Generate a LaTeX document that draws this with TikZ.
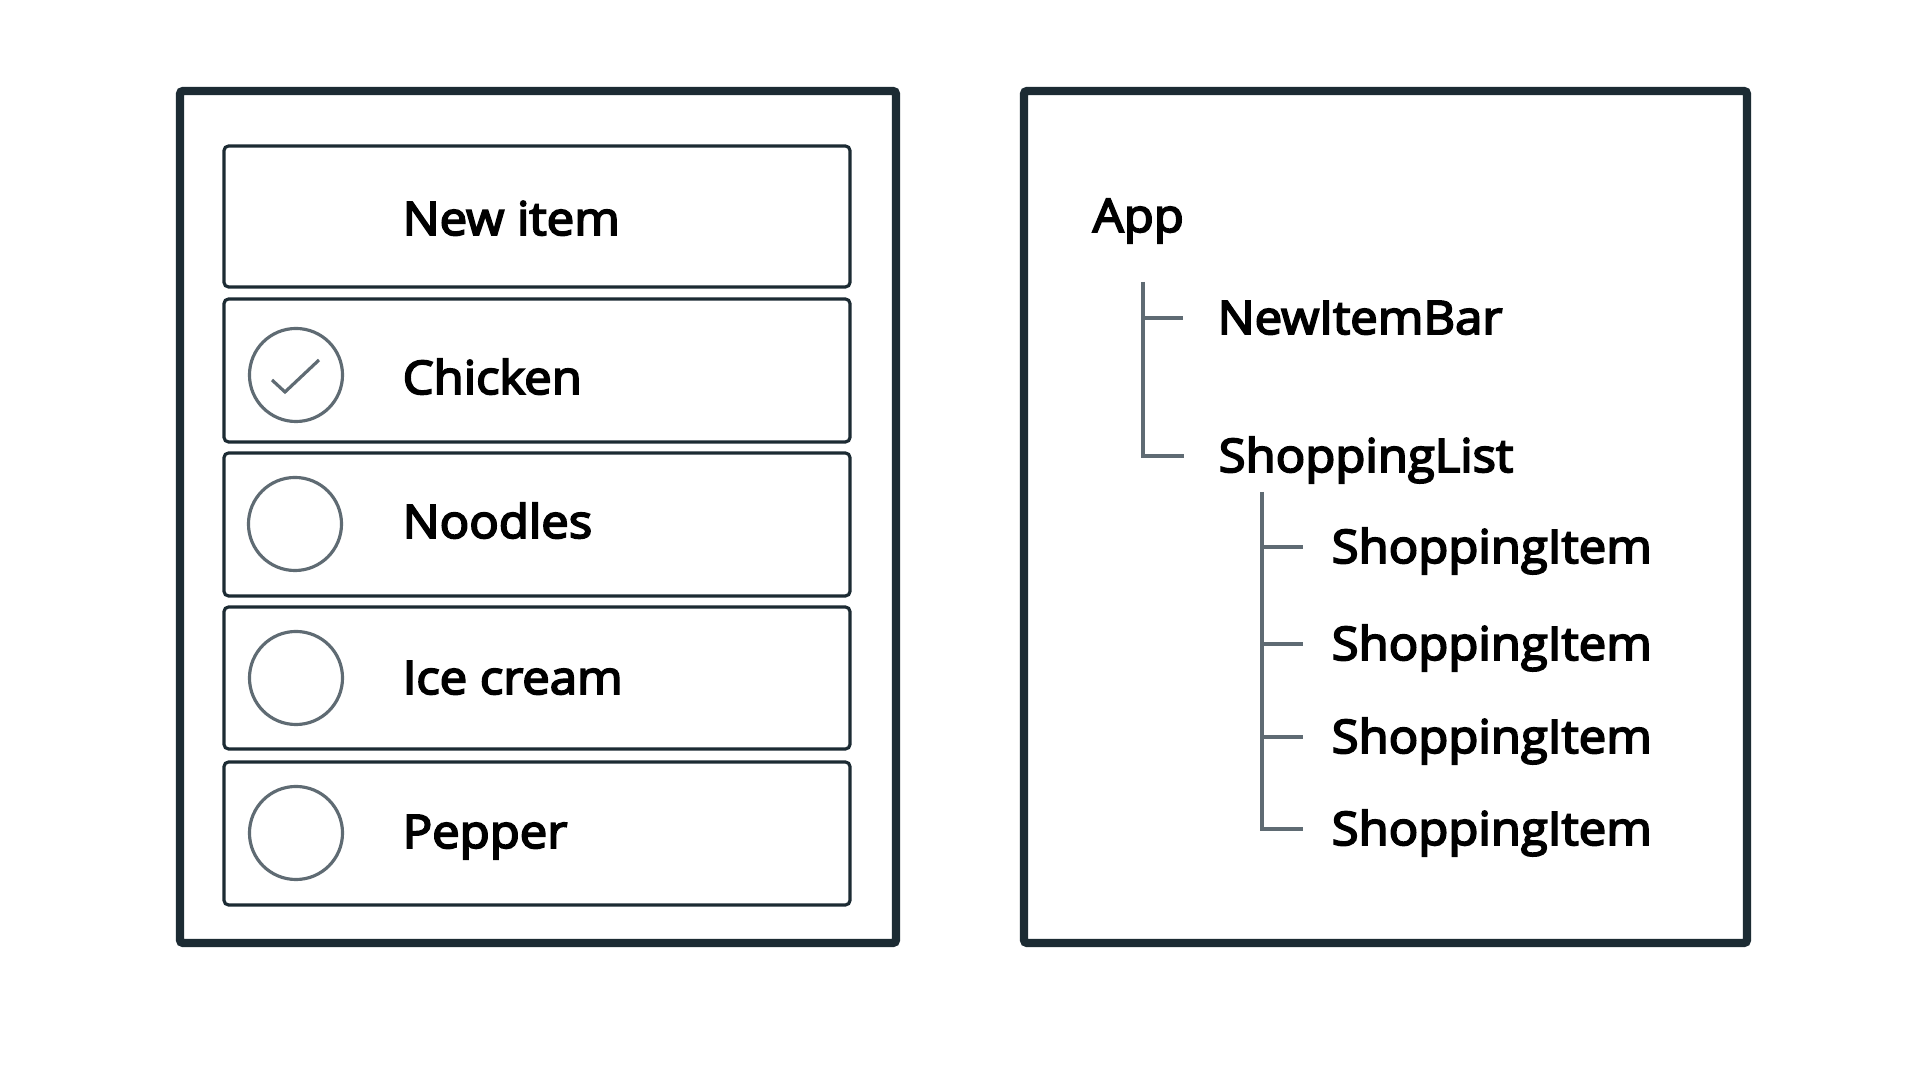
\documentclass[tikz,border=0pt]{standalone}
\usepackage{fontspec}
\setmainfont{Open Sans}[FakeBold=4, FakeStretch=1.06]
\usepackage{tikz}
\usetikzlibrary{positioning, calc}

\definecolor{framedark}{HTML}{1C2B33}
\definecolor{branchgray}{HTML}{5F6B73}

\tikzset{
  panel/.style={draw=framedark, line width=2.3pt, rounded corners=0.8pt},
  rowbox/.style={draw=framedark, line width=0.9pt, rounded corners=1.3pt},
  checkbox/.style={draw=branchgray, line width=0.9pt},
  label/.style={anchor=west, inner sep=0pt, text height=0.32cm, text depth=0cm,
    font=\fontsize{13.15}{16}\selectfont, text=black},
  branch/.style={draw=branchgray, line width=1pt}
}

\begin{document}
\begin{tikzpicture}[x=0.01cm, y=-0.01cm]
\useasboundingbox[fill=white] (0,0) rectangle (1920,1080);

% the list as the user sees it
\draw[panel] (180,91) rectangle (896,943);

\draw[rowbox] (224,146) rectangle (850,287);
\node[label] (newitem) at (402,219) {New item};

\draw[rowbox] (224,299) rectangle (850,442);
\draw[checkbox] (296,375) circle[radius=0.465cm];
\draw[checkbox] (272,380) -- (285,392) -- (319,360);
\node[label] (chicken) at (402,378) {Chicken};

\draw[rowbox] (224,453) rectangle (850,596);
\draw[checkbox] (295,524) circle[radius=0.465cm];
\node[label] (noodles) at (402,522) {Noodles};

\draw[rowbox] (224,607) rectangle (850,749);
\draw[checkbox] (296,678) circle[radius=0.465cm];
\node[label] (icecream) at (402,678) {Ice cream};

\draw[rowbox] (224,762) rectangle (850,905);
\draw[checkbox] (296,833) circle[radius=0.465cm];
\node[label] (pepper) at (402,832) {Pepper};

% the component tree
\draw[panel] (1024,91) rectangle (1747,943);

\node[label] (app) at (1092,216) {App};
\node[label] (bar) at (1217,318) {NewItemBar};
\node[label] (list) at (1218,456) {ShoppingList};
\node[label] (item1) at (1331,547) {ShoppingItem};
\node[label] (item2) at (1331,644) {ShoppingItem};
\node[label] (item3) at (1331,737) {ShoppingItem};
\node[label] (item4) at (1331,829) {ShoppingItem};

\coordinate (apptrunk) at (1143,282);
\draw[branch] (apptrunk) |- ([xshift=-0.34cm]list.west);
\draw[branch] (apptrunk |- bar.west) -- ([xshift=-0.34cm]bar.west);

\coordinate (listtrunk) at (1262,492);
\draw[branch] (listtrunk) |- ([xshift=-0.28cm]item4.west);
\draw[branch] (listtrunk |- item1.west) -- ([xshift=-0.28cm]item1.west);
\draw[branch] (listtrunk |- item2.west) -- ([xshift=-0.28cm]item2.west);
\draw[branch] (listtrunk |- item3.west) -- ([xshift=-0.28cm]item3.west);
\end{tikzpicture}
\end{document}
